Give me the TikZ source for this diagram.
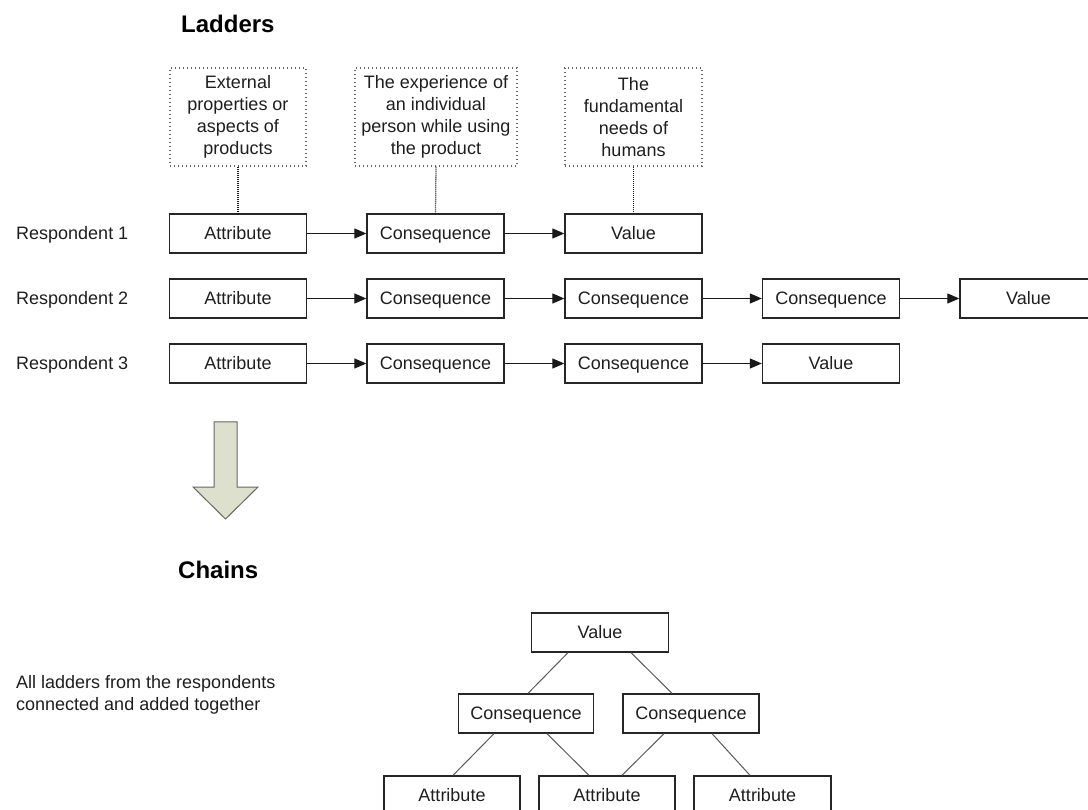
\documentclass[tikz,border=0pt]{standalone}
\usepackage{fontspec}
\setmainfont{Liberation Sans}
\usetikzlibrary{arrows.meta,calc}
\definecolor{arrowfill}{RGB}{221,224,204}
\definecolor{txt}{RGB}{30,30,30}
\begin{document}
\begin{tikzpicture}[x=1pt,y=-1pt,
  every node/.style={font=\fontsize{18pt}{22pt}\selectfont, text=txt},
  box/.style={draw=black!85, line width=1.3pt, minimum width=137pt, minimum height=39pt,
    inner sep=0pt, text height=12.9pt, text depth=0pt},
  note/.style={draw=black!60, line width=1.2pt, dash pattern=on 1.2pt off 2.8pt,
    minimum height=98pt, inner sep=0pt, align=center},
  link/.style={draw=black!90, line width=1.2pt, -{Triangle[length=12pt,width=10pt]}},
  dotlink/.style={draw=black!90, line width=1.3pt, dash pattern=on 1pt off 1pt},
  tree/.style={draw=black!65, line width=1pt},
  title/.style={font=\fontsize{24pt}{28pt}\selectfont\bfseries, text=black, inner sep=0pt, anchor=base west},
  label/.style={inner sep=0pt, anchor=base west}
]
\path[use as bounding box] (0,0) rectangle (1088,810);
\clip (0,0) rectangle (1088,810);

% titles
\node[title] (ladders) at (181,33) {Ladders};
\node[title] (chains) at (178,578) {Chains};

% notes
\node[note, minimum width=136pt] (n1) at (238,117) {External\\properties or\\aspects of\\products};
\node[note, minimum width=162pt] (n2) at (436,117) {The experience of\\an individual\\person while using\\the product};
\node[note, minimum width=137pt] (n3) at (633.5,117) {The\\fundamental\\needs of\\humans};

% respondent labels
\node[label] (r1) at (16,240) {Respondent 1};
\node[label] (r2) at (16,305) {Respondent 2};
\node[label] (r3) at (16,370) {Respondent 3};

% row 1
\node[box] (a11) at (238,233.5) {Attribute};
\node[box] (a12) at (435.5,233.5) {Consequence};
\node[box] (a13) at (633.5,233.5) {Value};
% row 2
\node[box] (a21) at (238,298.5) {Attribute};
\node[box] (a22) at (435.5,298.5) {Consequence};
\node[box] (a23) at (633.5,298.5) {Consequence};
\node[box] (a24) at (831,298.5) {Consequence};
\node[box] (a25) at (1028.5,298.5) {Value};
% row 3
\node[box] (a31) at (238,363.5) {Attribute};
\node[box] (a32) at (435.5,363.5) {Consequence};
\node[box] (a33) at (633.5,363.5) {Consequence};
\node[box] (a34) at (831,363.5) {Value};

% arrows
\draw[link] (a11) -- (a12);
\draw[link] (a12) -- (a13);
\draw[link] (a21) -- (a22);
\draw[link] (a22) -- (a23);
\draw[link] (a23) -- (a24);
\draw[link] (a24) -- (a25);
\draw[link] (a31) -- (a32);
\draw[link] (a32) -- (a33);
\draw[link] (a33) -- (a34);

% dotted connectors
\draw[dotlink] (n1.south) -- (a11.north);
\draw[dotlink] (n2.south) -- (a12.north);
\draw[dotlink] (n3.south) -- (a13.north);

% big arrow
\draw[draw=black!60, line width=1pt, fill=arrowfill]
  (214,422) -- (237,422) -- (237,487) -- (258,487) -- (225.5,519) -- (193,487) -- (214,487) -- cycle;

% chains text
\node[inner sep=0pt, anchor=north west, align=left] (desc) at (16,675)
  {All ladders from the respondents\\connected and added together};

% tree
\node[box] (v) at (600,632.5) {Value};
\node[box, minimum width=135pt] (c1) at (526,713.5) {Consequence};
\node[box, minimum width=136pt] (c2) at (691,713.5) {Consequence};
\node[box, minimum width=136pt] (t1) at (452,795.5) {Attribute};
\node[box, minimum width=136pt] (t2) at (607,795.5) {Attribute};
\node[box, minimum width=137pt] (t3) at (762.5,795.5) {Attribute};

\draw[tree] ([xshift=-32pt]v.south) -- ([xshift=2pt]c1.north);
\draw[tree] ([xshift=31pt]v.south) -- ([xshift=-19pt]c2.north);
\draw[tree] ([xshift=-32pt]c1.south) -- ([xshift=1pt]t1.north);
\draw[tree] ([xshift=21pt]c1.south) -- ([xshift=-18pt]t2.north);
\draw[tree] ([xshift=-27pt]c2.south) -- ([xshift=15pt]t2.north);
\draw[tree] ([xshift=21pt]c2.south) -- ([xshift=-12.5pt]t3.north);
\end{tikzpicture}
\end{document}
